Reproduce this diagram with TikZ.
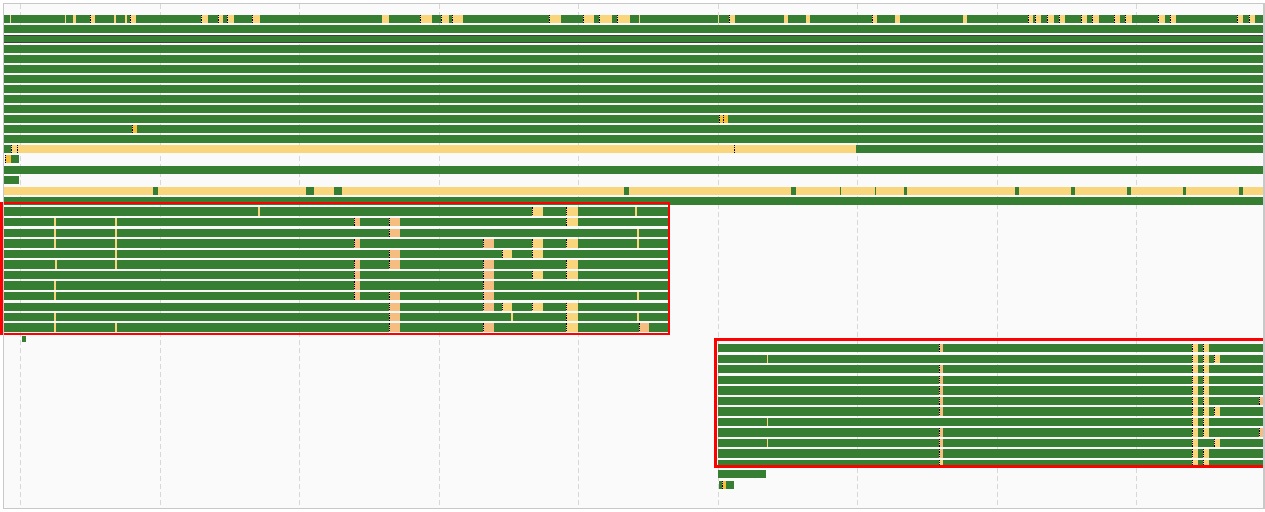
\documentclass[tikz,border=0pt]{standalone}
\definecolor{gc}{RGB}{53,126,50}
\definecolor{yc}{RGB}{249,214,124}
\definecolor{pc}{RGB}{245,189,128}
\definecolor{bc}{RGB}{245,192,58}
\definecolor{bgc}{RGB}{250,250,250}
\definecolor{grc}{RGB}{216,216,216}
\definecolor{frc}{RGB}{200,200,200}
\definecolor{tlc}{RGB}{235,220,150}
\def\bh{8.4}
\newcommand\gseg[3]{\fill[gc] (#2,#1) rectangle (#3,#1+\bh);}
\newcommand\yseg[3]{\fill[yc] (#2,#1) rectangle (#3,#1+\bh);\draw[mk] (#2+0.5,#1) -- (#2+0.5,#1+\bh);}
\newcommand\ynm[3]{\fill[yc] (#2,#1) rectangle (#3,#1+\bh);}
\newcommand\pseg[3]{\fill[pc] (#2,#1) rectangle (#3,#1+\bh);\draw[mk] (#2+0.5,#1) -- (#2+0.5,#1+\bh);}
\newcommand\bseg[3]{\fill[bc] (#2,#1) rectangle (#3,#1+\bh);\draw[mk] (#2+0.5,#1) -- (#2+0.5,#1+\bh);}
\newcommand\tline[2]{\fill[yc] (#2-0.6,#1) rectangle (#2+0.6,#1+\bh);}
\newcommand\mkat[2]{\draw[mk] (#2+0.5,#1) -- (#2+0.5,#1+\bh);}
\begin{document}
\begin{tikzpicture}[x=1pt,y=-1pt,
  mk/.style={black,line width=1.1pt,dash pattern=on 1.2pt off 1pt},
  grid/.style={grc,line width=1pt,dash pattern=on 5pt off 3pt},
  hl/.style={red,line width=2.5pt}]
\useasboundingbox (0,0) rectangle (1265,511);
\fill[white] (0,0) rectangle (1265,511);
\fill[bgc] (3.5,3.5) rectangle (1264,508.5);
% grid
\foreach \gx in {20.5,160,299.5,439,578.5,718,857.5,997,1136.5}
  \draw[grid] (\gx,4) -- (\gx,508);
% ---------- top rows ----------
\gseg{15}{4}{1264}
\foreach \a/\b in {73/76,114/116,125/127,382/389,784/788,806/810,895/900,963/967}
  {\ynm{15}{\a}{\b}}
\foreach \a/\b in {90/95,130/136,201/208,218/223,227/234,252/260,420/432,441/449,452/463,549/561,583/594,599/612,617/630,729/735,872/877,1028/1033,1035/1041,1047/1054,1059/1065,1081/1087,1092/1099,1114/1120,1125/1132,1158/1165,1170/1176,1237/1243,1249/1255}
  {\yseg{15}{\a}{\b}}
\foreach \t in {10.5,65.5,639.5,718.5} {\fill[tlc] (\t-0.5,15) rectangle (\t+0.5,15+\bh);}
\foreach \ry in {25,35,45,55,65,75,85,95,105,115,125,135} {\gseg{\ry}{4}{1264}}
\draw[black!75,line width=0.8pt] (4,35.2) -- (1264,35.2) (4,42.6) -- (1264,42.6);
\bseg{115}{719}{728}\mkat{115}{723}
\bseg{125}{132}{137}
% row 145
\gseg{145}{4}{11}\ynm{145}{11}{856}\gseg{145}{856}{1264}
\mkat{145}{11}\mkat{145}{17}\mkat{145}{734}
% row 155
\bseg{155}{5}{11}\gseg{155}{11}{19}
% row 166, 176
\gseg{166}{4}{1264}
\gseg{176}{4}{19}
% row 187
\ynm{187}{4}{1264}
\foreach \a/\b in {153/158,306/314,334/342,624/629,791/796,840/841,875/876,904/907,1015/1019,1071/1075,1127/1131,1183/1186,1239/1243}
  {\gseg{187}{\a}{\b}}
% row 197
\gseg{197}{4}{1264}
% ---------- box 1 rows ----------
\foreach \ry in {207.3,217.8,228.9,239.4,250,260.4,271,281.4,292,302.6,313,323.4} {\gseg{\ry}{4}{668}}
% r1
\tline{207.3}{259}\yseg{207.3}{532}{543}\yseg{207.3}{566}{578}\tline{207.3}{636}
% r2
\tline{217.8}{55}\tline{217.8}{116}\pseg{217.8}{354}{360}\pseg{217.8}{389}{400}\yseg{217.8}{566}{578}
% r3
\tline{228.9}{55}\tline{228.9}{116}\pseg{228.9}{389}{400}\tline{228.9}{638}
% r4
\tline{239.4}{55}\tline{239.4}{116}\pseg{239.4}{354}{360}\pseg{239.4}{483}{494}\yseg{239.4}{532}{543}\yseg{239.4}{566}{578}\tline{239.4}{638}
% r5
\tline{250}{116}\pseg{250}{389}{400}\yseg{250}{502}{512}\yseg{250}{532}{543}
% r6
\tline{260.4}{56}\tline{260.4}{116}\pseg{260.4}{354}{360}\pseg{260.4}{389}{400}\pseg{260.4}{483}{494}\yseg{260.4}{566}{578}
% r7
\pseg{271}{354}{360}\pseg{271}{483}{494}\yseg{271}{532}{543}\yseg{271}{566}{578}
% r8
\tline{281.4}{55}\pseg{281.4}{354}{360}\pseg{281.4}{483}{494}
% r9
\tline{292}{55}\pseg{292}{354}{360}\pseg{292}{389}{400}\pseg{292}{483}{494}\tline{292}{638}
% r10
\pseg{302.6}{389}{400}\pseg{302.6}{483}{494}\yseg{302.6}{502}{512}\yseg{302.6}{532}{543}\yseg{302.6}{566}{578}
% r11
\tline{313}{55}\pseg{313}{389}{400}\tline{313}{512}\yseg{313}{566}{578}\tline{313}{638}
% r12
\tline{323.4}{55}\tline{323.4}{116}\pseg{323.4}{389}{400}\pseg{323.4}{483}{494}\yseg{323.4}{566}{578}\pseg{323.4}{639}{649}
% small square
\fill[gc] (22,336) rectangle (26,342);
% ---------- box 2 rows ----------
\foreach \ry in {344,354.5,365,375.6,386.1,396.7,407.2,417.7,428.2,438.7,449.2,459.7} {\gseg{\ry}{718}{1264}}
\pseg{344}{939}{943}\yseg{344}{1192}{1198}\yseg{344}{1203}{1209}
\tline{354.5}{767.5}\yseg{354.5}{1192}{1198}\yseg{354.5}{1203}{1209}\yseg{354.5}{1214}{1220}
\pseg{365}{939}{943}\yseg{365}{1192}{1198}\yseg{365}{1203}{1209}
\pseg{375.6}{939}{943}\yseg{375.6}{1192}{1198}\yseg{375.6}{1203}{1209}
\pseg{386.1}{939}{943}\yseg{386.1}{1192}{1198}\yseg{386.1}{1203}{1209}
\pseg{396.7}{939}{943}\yseg{396.7}{1192}{1198}\yseg{396.7}{1203}{1209}\pseg{396.7}{1259}{1264}
\pseg{407.2}{939}{943}\yseg{407.2}{1192}{1198}\yseg{407.2}{1203}{1209}\yseg{407.2}{1214}{1220}
\tline{417.7}{767.5}\yseg{417.7}{1192}{1198}\yseg{417.7}{1203}{1209}
\pseg{428.2}{939}{943}\yseg{428.2}{1192}{1198}\yseg{428.2}{1203}{1209}\pseg{428.2}{1259}{1264}
\tline{438.7}{767.5}\pseg{438.7}{939}{943}\yseg{438.7}{1192}{1198}\yseg{438.7}{1214}{1220}
\pseg{449.2}{939}{943}\yseg{449.2}{1192}{1198}\yseg{449.2}{1203}{1209}
\yseg{459.7}{939}{943}\yseg{459.7}{1192}{1198}\yseg{459.7}{1203}{1209}
% below box 2
\gseg{470}{718}{766}
\gseg{481}{719}{722}\bseg{481}{722}{726}\gseg{481}{726}{734}
% ---------- highlight boxes ----------
\draw[hl] (1.5,203) rectangle (669,334);
\draw[hl] (715.5,339.3) rectangle (1264,466.5);
% frame
\draw[frc,line width=1.2pt] (3.5,3.5) rectangle (1264,508.5);
\end{tikzpicture}
\end{document}
